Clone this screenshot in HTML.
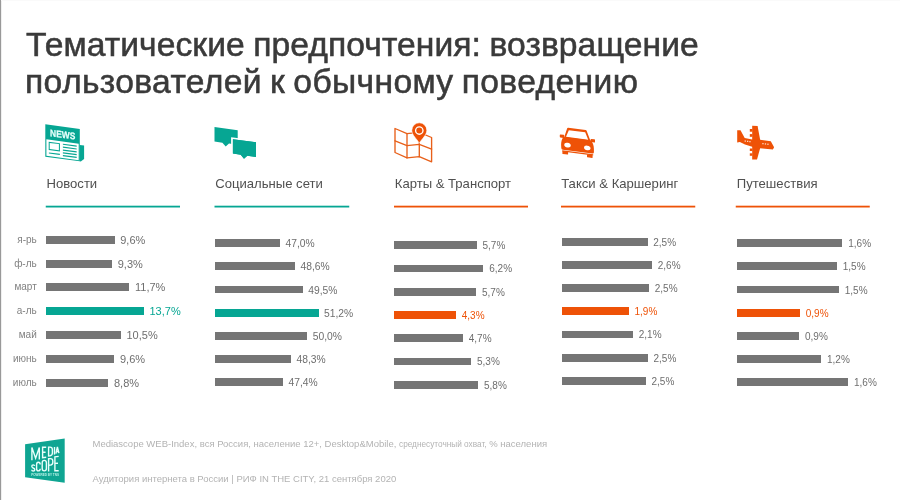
<!DOCTYPE html>
<html><head><meta charset="utf-8">
<style>
html,body{margin:0;padding:0;}
body{width:900px;height:500px;background:#fff;position:relative;overflow:hidden;font-family:"Liberation Sans",sans-serif;}
#edge{position:absolute;left:0;top:0;width:1px;height:500px;background:#999;box-shadow:1px 0 0 #efefef;}
#tedge{position:absolute;left:1px;top:0;width:899px;height:1px;background:#fafafa;}
.t{position:absolute;left:26.2px;white-space:nowrap;font-size:33px;line-height:40px;color:#3a3a3a;-webkit-text-stroke:0.55px #3a3a3a;transform-origin:0 31px;transform:scale(1.02,1.02);}
.b{position:absolute;}
.v{position:absolute;line-height:16px;height:16px;white-space:nowrap;}
.m{position:absolute;right:863.25px;line-height:16px;height:16px;font-size:10px;color:#828282;white-space:nowrap;}
.h{position:absolute;top:176px;line-height:16px;font-size:13.1px;color:#505050;white-space:nowrap;}
.u{position:absolute;top:205.8px;height:1.6px;}
.f{position:absolute;left:92.5px;font-size:9.5px;line-height:12px;color:#b3b3b3;white-space:nowrap;}
svg{position:absolute;overflow:visible;}
#w{position:absolute;left:0;top:0;width:900px;height:500px;will-change:transform;}
</style></head><body>
<div id="w">
<div id="edge"></div><div id="tedge"></div>
<div class="t" id="t1" style="top:25px;left:25.8px;letter-spacing:0.06px;word-spacing:-1px">Тематические предпочтения: возвращение</div>
<div class="t" id="t2" style="top:62.25px;left:25px;letter-spacing:0.34px;word-spacing:-1.5px">пользователей к обычному поведению</div>
<div class="h" style="left:46.5px">Новости</div>
<div class="h" style="left:215.25px">Социальные сети</div>
<div class="h" style="left:394.75px">Карты &amp; Транспорт</div>
<div class="h" style="left:561.2px">Такси &amp; Каршеринг</div>
<div class="h" style="left:736.75px">Путешествия</div>
<svg width="900" height="500" viewBox="0 0 900 500" style="left:0;top:0"><rect x="45.75" y="205.7" width="134.25" height="1.8" fill="#06a693"/><rect x="214.5" y="205.7" width="134.75" height="1.8" fill="#06a693"/><rect x="394" y="205.7" width="134" height="1.8" fill="#ee5207"/><rect x="561" y="205.7" width="134.25" height="1.8" fill="#ee5207"/><rect x="735.75" y="205.7" width="134.0" height="1.8" fill="#ee5207"/></svg>
<div class="b" style="left:45.75px;top:235.75px;width:68.75px;height:8px;background:#757575"></div>
<div class="v" style="left:120.25px;top:231.75px;font-size:11px;color:#6e6e6e">9,6%</div>
<div class="m" style="top:231.75px">я-рь</div>
<div class="b" style="left:45.75px;top:259.60px;width:66.25px;height:8px;background:#757575"></div>
<div class="v" style="left:117.75px;top:255.60px;font-size:11px;color:#6e6e6e">9,3%</div>
<div class="m" style="top:255.60px">ф-ль</div>
<div class="b" style="left:45.75px;top:283.45px;width:83.5px;height:8px;background:#757575"></div>
<div class="v" style="left:135.00px;top:279.45px;font-size:11px;color:#6e6e6e">11,7%</div>
<div class="m" style="top:279.45px">март</div>
<div class="b" style="left:45.75px;top:307.30px;width:98px;height:8px;background:#06a693"></div>
<div class="v" style="left:149.50px;top:303.30px;font-size:11px;color:#06a693">13,7%</div>
<div class="m" style="top:303.30px">а-ль</div>
<div class="b" style="left:45.75px;top:331.15px;width:75px;height:8px;background:#757575"></div>
<div class="v" style="left:126.50px;top:327.15px;font-size:11px;color:#6e6e6e">10,5%</div>
<div class="m" style="top:327.15px">май</div>
<div class="b" style="left:45.75px;top:355.00px;width:68.5px;height:8px;background:#757575"></div>
<div class="v" style="left:120.00px;top:351.00px;font-size:11px;color:#6e6e6e">9,6%</div>
<div class="m" style="top:351.00px">июнь</div>
<div class="b" style="left:45.75px;top:378.85px;width:62.5px;height:8px;background:#757575"></div>
<div class="v" style="left:114.00px;top:374.85px;font-size:11px;color:#6e6e6e">8,8%</div>
<div class="m" style="top:374.85px">июль</div>
<div class="b" style="left:214.5px;top:239.25px;width:65.5px;height:7.75px;background:#757575"></div>
<div class="v" style="left:285.50px;top:236.12px;font-size:10.3px;color:#6e6e6e">47,0%</div>
<div class="b" style="left:214.5px;top:262.45px;width:80.5px;height:7.75px;background:#757575"></div>
<div class="v" style="left:300.50px;top:259.32px;font-size:10.3px;color:#6e6e6e">48,6%</div>
<div class="b" style="left:214.5px;top:285.65px;width:88.25px;height:7.75px;background:#757575"></div>
<div class="v" style="left:308.25px;top:282.52px;font-size:10.3px;color:#6e6e6e">49,5%</div>
<div class="b" style="left:214.5px;top:308.85px;width:104px;height:7.75px;background:#06a693"></div>
<div class="v" style="left:324.00px;top:305.73px;font-size:10.3px;color:#6e6e6e">51,2%</div>
<div class="b" style="left:214.5px;top:332.05px;width:92.75px;height:7.75px;background:#757575"></div>
<div class="v" style="left:312.75px;top:328.93px;font-size:10.3px;color:#6e6e6e">50,0%</div>
<div class="b" style="left:214.5px;top:355.25px;width:76.5px;height:7.75px;background:#757575"></div>
<div class="v" style="left:296.50px;top:352.12px;font-size:10.3px;color:#6e6e6e">48,3%</div>
<div class="b" style="left:214.5px;top:378.45px;width:68.5px;height:7.75px;background:#757575"></div>
<div class="v" style="left:288.50px;top:375.32px;font-size:10.3px;color:#6e6e6e">47,4%</div>
<div class="b" style="left:394.25px;top:241.25px;width:82.25px;height:7.75px;background:#757575"></div>
<div class="v" style="left:482.50px;top:238.12px;font-size:10px;color:#6e6e6e">5,7%</div>
<div class="b" style="left:394.25px;top:264.50px;width:89px;height:7.75px;background:#757575"></div>
<div class="v" style="left:489.25px;top:261.38px;font-size:10px;color:#6e6e6e">6,2%</div>
<div class="b" style="left:394.25px;top:287.75px;width:81.75px;height:7.75px;background:#757575"></div>
<div class="v" style="left:482.00px;top:284.62px;font-size:10px;color:#6e6e6e">5,7%</div>
<div class="b" style="left:394.25px;top:311.00px;width:61.5px;height:7.75px;background:#ee5207"></div>
<div class="v" style="left:461.75px;top:307.88px;font-size:10px;color:#ee5207">4,3%</div>
<div class="b" style="left:394.25px;top:334.25px;width:68.5px;height:7.75px;background:#757575"></div>
<div class="v" style="left:468.75px;top:331.12px;font-size:10px;color:#6e6e6e">4,7%</div>
<div class="b" style="left:394.25px;top:357.50px;width:76.75px;height:7.75px;background:#757575"></div>
<div class="v" style="left:477.00px;top:354.38px;font-size:10px;color:#6e6e6e">5,3%</div>
<div class="b" style="left:394.25px;top:380.75px;width:83.75px;height:7.75px;background:#757575"></div>
<div class="v" style="left:484.00px;top:377.62px;font-size:10px;color:#6e6e6e">5,8%</div>
<div class="b" style="left:562px;top:238.00px;width:85.75px;height:7.75px;background:#757575"></div>
<div class="v" style="left:653.25px;top:234.88px;font-size:10px;color:#6e6e6e">2,5%</div>
<div class="b" style="left:562px;top:261.15px;width:90.25px;height:7.75px;background:#757575"></div>
<div class="v" style="left:657.75px;top:258.02px;font-size:10px;color:#6e6e6e">2,6%</div>
<div class="b" style="left:562px;top:284.30px;width:87.25px;height:7.75px;background:#757575"></div>
<div class="v" style="left:654.75px;top:281.18px;font-size:10px;color:#6e6e6e">2,5%</div>
<div class="b" style="left:562px;top:307.45px;width:67px;height:7.75px;background:#ee5207"></div>
<div class="v" style="left:634.50px;top:304.32px;font-size:10px;color:#ee5207">1,9%</div>
<div class="b" style="left:562px;top:330.60px;width:71.25px;height:7.75px;background:#757575"></div>
<div class="v" style="left:638.75px;top:327.48px;font-size:10px;color:#6e6e6e">2,1%</div>
<div class="b" style="left:562px;top:353.75px;width:86px;height:7.75px;background:#757575"></div>
<div class="v" style="left:653.50px;top:350.62px;font-size:10px;color:#6e6e6e">2,5%</div>
<div class="b" style="left:562px;top:376.90px;width:84px;height:7.75px;background:#757575"></div>
<div class="v" style="left:651.50px;top:373.77px;font-size:10px;color:#6e6e6e">2,5%</div>
<div class="b" style="left:737px;top:239.25px;width:105.25px;height:7.75px;background:#757575"></div>
<div class="v" style="left:848.25px;top:236.12px;font-size:10px;color:#6e6e6e">1,6%</div>
<div class="b" style="left:737px;top:262.45px;width:99.75px;height:7.75px;background:#757575"></div>
<div class="v" style="left:842.75px;top:259.32px;font-size:10px;color:#6e6e6e">1,5%</div>
<div class="b" style="left:737px;top:285.65px;width:101.75px;height:7.75px;background:#757575"></div>
<div class="v" style="left:844.75px;top:282.52px;font-size:10px;color:#6e6e6e">1,5%</div>
<div class="b" style="left:737px;top:308.85px;width:62.75px;height:7.75px;background:#ee5207"></div>
<div class="v" style="left:805.75px;top:305.73px;font-size:10px;color:#ee5207">0,9%</div>
<div class="b" style="left:737px;top:332.05px;width:62px;height:7.75px;background:#757575"></div>
<div class="v" style="left:805.00px;top:328.93px;font-size:10px;color:#6e6e6e">0,9%</div>
<div class="b" style="left:737px;top:355.25px;width:84px;height:7.75px;background:#757575"></div>
<div class="v" style="left:827.00px;top:352.12px;font-size:10px;color:#6e6e6e">1,2%</div>
<div class="b" style="left:737px;top:378.45px;width:111px;height:7.75px;background:#757575"></div>
<div class="v" style="left:854.00px;top:375.32px;font-size:10px;color:#6e6e6e">1,6%</div>
<div class="f" id="f1" style="top:437.6px">Mediascope WEB-Index, вся Россия, население 12+, Desktop&amp;Mobile, <span style="font-size:8.25px">среднесуточный охват,</span> % населения</div>
<div class="f" id="f2" style="top:473px">Аудитория интернета в России | РИФ IN THE CITY, 21 сентября 2020</div>
<svg id="ic" width="900" height="500" viewBox="0 0 900 500" style="left:0;top:0">
<!-- NEWS icon -->
<g id="news">
  <polygon points="79.6,144.9 84.1,145.6 84.1,159.1 80.8,161.6 79.6,161.3" fill="#06a693"/>
  <g transform="matrix(1,0.133,0,1,45.3,124.3)">
    <rect x="0" y="0" width="34.5" height="32.4" fill="#06a693"/>
    <rect x="1.1" y="14.9" width="32.3" height="16.5" fill="#fff"/>
    <text x="17.4" y="11.3" text-anchor="middle" font-family="Liberation Sans, sans-serif" font-weight="bold" font-size="9.6" fill="#e6fffb" stroke="#e6fffb" stroke-width="0.25" textLength="25.2" lengthAdjust="spacingAndGlyphs">NEWS</text>
    <rect x="3.9" y="17.5" width="10.2" height="7.2" fill="none" stroke="#06a693" stroke-width="1"/>
    <rect x="3.6" y="27.6" width="11" height="1.1" fill="#06a693"/>
    <g fill="#06a693">
      <rect x="17.6" y="17.0" width="13.8" height="1.2"/>
      <rect x="17.6" y="19.9" width="13.8" height="1.2"/>
      <rect x="17.6" y="22.8" width="13.8" height="1.2"/>
      <rect x="17.6" y="25.6" width="13.8" height="1.2"/>
      <rect x="17.6" y="28.3" width="13.8" height="1.2"/>
    </g>
  </g>
</g>
<!-- CHAT icon -->
<g id="chat" fill="#06a693">
  <polygon points="214.5,127.1 237.7,130.2 237.7,144.7 229,143.55 225.7,146.5 222.4,142.65 214.5,141.6"/>
  <polygon points="232.9,139.3 256,142.3 256,156.9 247.3,155.75 244,158.8 240.7,154.85 232.9,153.6" stroke="#fff" stroke-width="3.6" stroke-linejoin="miter" paint-order="stroke"/>
  <polygon points="232.9,139.3 256,142.3 256,156.9 247.3,155.75 244,158.8 240.7,154.85 232.9,153.6"/>
</g>
<!-- MAP icon -->
<g id="map" fill="none" stroke="#e8601a" stroke-width="1.35" stroke-linejoin="round" stroke-linecap="round">
  <polygon points="395,128.5 407,133.7 419.3,132.4 431.6,137.5 431.6,161.8 419.3,156.7 407,157.9 395,152.5"/>
  <polyline points="395,140.8 407,145.7 419.3,144.4 431.6,149.2"/>
  <line x1="407" y1="133.7" x2="407" y2="157.9"/>
  <line x1="419.3" y1="132.4" x2="419.3" y2="156.7"/>
</g>
<g id="pin">
  <path d="M419.3,143.2 C417.2,139.2 411.8,135.3 411.8,130.3 A7.5,7.5 0 1 1 426.8,130.3 C426.8,135.3 421.4,139.2 419.3,143.2 Z" fill="#ee5207" stroke="#fff" stroke-width="0.6"/>
  <circle cx="419.3" cy="130.5" r="3.7" fill="none" stroke="#fff" stroke-width="1.35"/>
</g>
<!-- CAR icon -->
<g id="car" transform="matrix(1,0.13,0,1,577,0.4)" fill="#ee5207">
  <path d="M-9.8,129 Q-9.5,128.6 -8.8,128.6 L8.6,128.6 Q9.4,128.6 9.7,129.3 L13.6,139 L-13,139 Z"/>
  <path d="M-8.2,130.9 L8.2,130.9 L11.2,137.9 L-11,137.9 Z" fill="#fff"/>
  <rect x="-17.2" y="136.2" width="4.4" height="3.1" rx="0.6"/>
  <rect x="13.6" y="136.7" width="4.4" height="3.1" rx="0.6"/>
  <path d="M-13.6,138.4 L14,138.4 C15.8,140.3 16.9,143.3 16.9,146.3 L16.9,149.6 Q16.9,151.1 15.4,151.1 L-14.2,151.1 Q-15.7,151.1 -15.7,149.6 L-15.9,146.3 C-15.9,143.3 -15,140.3 -13.6,138.4 Z"/>
  <ellipse cx="-9.5" cy="146.0" rx="3.3" ry="2.3" fill="#fff"/>
  <ellipse cx="10.3" cy="146.2" rx="3.3" ry="2.3" fill="#fff"/>
  <rect x="-14.8" y="151.8" width="31" height="1.3"/>
  <rect x="-14.6" y="152.4" width="5.7" height="3" rx="0.5"/>
  <rect x="10" y="152.6" width="5.6" height="3" rx="0.5"/>
</g>
<!-- PLANE icon -->
<g id="plane" fill="#ee5207">
  <!-- upper wing -->
  <polygon points="752.2,125.7 757.6,126 760.2,140 760.2,144 752.2,144"/>
  <rect x="749.8" y="129" width="2.6" height="2.7"/>
  <rect x="749.8" y="134.1" width="2.6" height="2.7"/>
  <!-- fuselage -->
  <polygon points="737.2,130.2 740.5,130.2 744.7,138 752.2,139.5 760,139.8 770.8,141.3 774.1,147.3 772.9,149.4 760,148.3 752.2,146.8 745,144.6 739.9,141.9 737.2,142.5"/>
  <!-- lower wing -->
  <polygon points="752.2,143 760.2,143 760.2,148 757,159.6 752.2,159.6"/>
  <rect x="749.8" y="148.5" width="2.6" height="2.5"/>
  <rect x="749.8" y="153.3" width="2.6" height="2.5"/>
  <g fill="#ffd9c4">
    <rect x="744.6" y="140.4" width="1.3" height="1.3"/><rect x="747" y="140.7" width="1.3" height="1.3"/><rect x="749.3" y="141" width="1.3" height="1.3"/>
    <rect x="762.3" y="143.0" width="1.3" height="1.3"/><rect x="764.8" y="143.3" width="1.3" height="1.3"/><rect x="767.3" y="143.6" width="1.3" height="1.3"/>
  </g>
</g>
<!-- LOGO -->
<g id="logo">
  <polygon points="25.1,444.3 64.7,438.5 64.7,482.7 25.1,477.3" fill="#0fa592"/>
  <g fill="none" stroke="#eafffb" stroke-width="1.4" stroke-linecap="butt" stroke-linejoin="miter">
    <!-- MEDIA -->
    <polyline points="31.9,460.3 31.9,447.6 35.6,458.2 39.3,447.5 39.3,459.4"/>
    <polyline points="46.2,447.3 42.6,447.3 42.6,457.6 46.2,457.2"/>
    <line x1="42.6" y1="452.3" x2="45.6" y2="452.2"/>
    <path d="M48.6,447.1 L48.6,456 L50,455.8 Q52.4,455.4 52.4,453 L52.4,449.8 Q52.4,447.1 50,447.1 Z"/>
    <line x1="54.5" y1="447" x2="54.5" y2="454.6"/>
    <polyline points="55.9,453.6 57.4,447 58.9,453.2"/>
    <line x1="56.4" y1="451.6" x2="58.4" y2="451.5"/>
    <!-- sCOPE -->
    <path d="M34.7,465.9 Q34.5,464.9 33.2,464.9 Q31.8,464.9 31.8,466.2 Q31.8,467.3 33.2,468 Q34.8,468.7 34.8,469.8 Q34.8,471 33.2,471 Q31.8,471 31.7,469.8"/>
    <path d="M40.2,464.5 Q40.2,462.2 38.3,462.2 Q36.6,462.2 36.6,464.5 L36.6,468.8 Q36.6,470.9 38.3,470.9 Q40.2,470.9 40.2,468.8"/>
    <path d="M44.2,460.4 Q46.4,460.4 46.4,462.8 L46.4,468.6 Q46.4,470.9 44.2,470.9 Q42.2,470.9 42.2,468.6 L42.2,462.8 Q42.2,460.4 44.2,460.4 Z"/>
    <path d="M48.6,471.4 L48.6,458.7 L50.4,458.6 Q52.8,458.5 52.8,461.2 L52.8,462.6 Q52.8,465 50.4,465.1 L48.6,465.2"/>
    <polyline points="58.7,456.4 54.9,456.8 54.9,470.8 58.7,470.8"/>
    <line x1="54.9" y1="463.4" x2="58" y2="463.3"/>
  </g>
  <text x="31.2" y="475.7" font-family="Liberation Sans, sans-serif" font-weight="bold" font-size="3.1" fill="#b5f0e6" textLength="27.8" lengthAdjust="spacingAndGlyphs">POWERED BY TNS</text>
</g>
</svg>

</div>
</body></html>
